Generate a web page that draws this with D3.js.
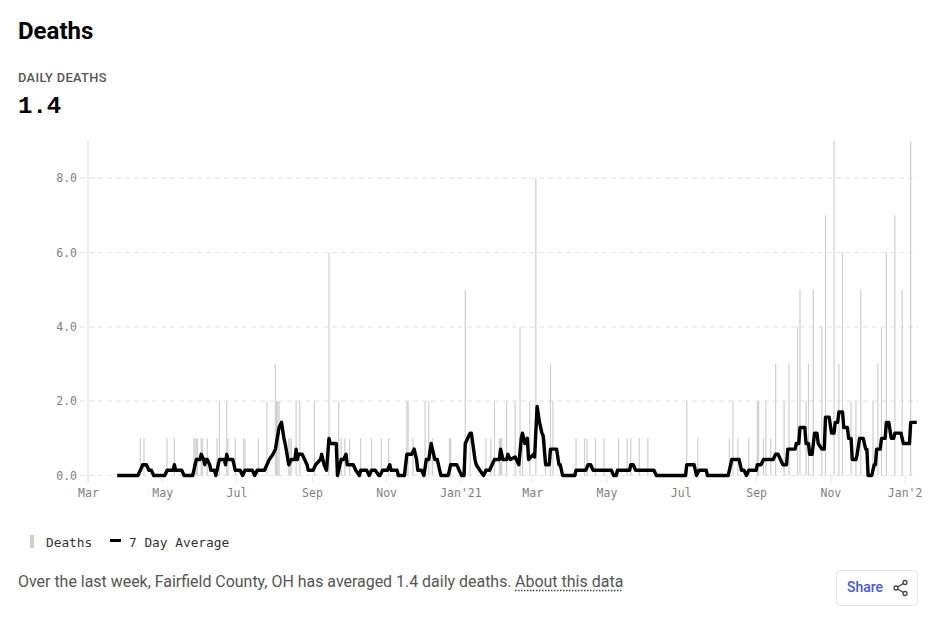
<!DOCTYPE html>
<html>
<head>
<meta charset="utf-8">
<script src="https://cdn.jsdelivr.net/npm/d3@7"></script>
<style>
  html, body { margin: 0; padding: 0; background: #fff; }
  svg { display: block; }
  text { font-family: "DejaVu Sans Mono", monospace; }
  .sans { font-family: Roboto, sans-serif; }
  .axis text { font-family: "DejaVu Sans Mono", monospace; font-size: 11.5px; fill: #808080; }
  .axis line { stroke: #e8e8e8; }
  .axis path { display: none; }
  .grid line { stroke: #e6e6e6; stroke-width: 1.2; stroke-dasharray: 5 4; }
</style>
</head>
<body>
<div id="chart"></div>
<script>
/* DATA: days are counted from 1 March 2020 */
const START = new Date(2020, 2, 1);
const LAST_DAY = 682;

const deathDays = [43, 46, 65, 71, 87, 88, 89, 90, 93, 94, 98, 106, 108, 114, 115, 121, 128, 129, 140, 147, 154,
  155, 156, 157, 165, 166, 167, 171, 174, 186, 198, 206, 208, 211, 215, 224, 233, 241, 247, 262, 263, 267,
  277, 280, 283, 297, 298, 310, 314, 327, 331, 334, 338, 339, 340, 344, 351, 355, 357, 363, 368, 376, 380,
  382, 401, 408, 410, 417, 424, 436, 443, 446, 453, 460, 492, 501, 527, 530, 534, 543, 550, 551, 555, 557,
  561, 565, 572, 576, 583, 585, 590, 592, 596, 603, 606, 613, 617, 620, 627, 631, 635, 645, 649, 652, 656,
  663, 669, 676];
const deathValues = [1, 1, 1, 1, 1, 1, 1, 1, 1, 1, 1, 1, 2, 2, 1, 1, 1, 1, 1, 2, 3,
  2, 2, 2, 1, 1, 1, 2, 2, 2, 6, 2, 1, 1, 1, 1, 1, 1, 1, 2, 2, 1,
  2, 2, 1, 1, 1, 5, 1, 1, 1, 2, 1, 1, 1, 2, 2, 4, 1, 2, 8, 1, 3,
  2, 1, 1, 1, 1, 1, 1, 1, 1, 1, 1, 2, 1, 1, 2, 1, 1, 2, 2, 1, 2,
  1, 3, 2, 3, 4, 5, 2, 3, 5, 4, 7, 9, 3, 6, 2, 2, 5, 2, 3, 4, 6,
  7, 5, 9];

const avgDays = [24, 41, 43, 45, 48, 50, 52, 54, 63, 65, 70, 71, 72, 77, 79, 86, 87, 88, 89, 92, 93, 95, 96, 97, 98,
  100, 101, 104, 105, 106, 107, 108, 112, 113, 114, 115, 119, 121, 125, 127, 129, 135, 137, 139, 145, 147, 149,
  152, 154, 157, 159, 161, 162, 165, 167, 170, 171, 172, 173, 176, 178, 180, 181, 185, 187, 191, 192, 194, 196,
  198, 199, 204, 205, 206, 207, 208, 210, 212, 213, 218, 220, 223, 224, 229, 231, 233, 236, 239, 240, 242, 246,
  248, 249, 254, 255, 260, 262, 266, 268, 270, 271, 274, 276, 278, 280, 282, 285, 287, 289, 290, 296, 298, 303,
  305, 307, 309, 310, 312, 314, 315, 318, 319, 322, 325, 327, 330, 332, 334, 338, 339, 341, 344, 345, 347, 351,
  354, 356, 357, 359, 361, 362, 366, 367, 369, 371, 373, 374, 376, 379, 380, 385, 387, 388, 390, 400, 401, 409,
  411, 413, 415, 430, 432, 434, 435, 445, 446, 448, 450, 465, 467, 491, 492, 498, 500, 502, 508, 509, 526, 527,
  529, 535, 537, 539, 541, 543, 549, 550, 553, 555, 563, 565, 567, 569, 571, 574, 575, 581, 582, 584, 585, 589,
  590, 592, 593, 595, 597, 599, 600, 603, 605, 606, 609, 611, 613, 614, 616, 617, 620, 621, 624, 625, 627, 628,
  631, 632, 634, 637, 639, 640, 641, 644, 646, 647, 648, 651, 652, 655, 656, 658, 660, 662, 663, 668, 670, 675,
  676, 681];
const avgValues = [0, 0, .14, .29, .29, .14, .14, 0, 0, .14, .14, .29, .14, .14, 0, 0, .14, .29, .43, .43, .57, .43, .29, .43, .43,
  .29, .14, .14, 0, .14, .29, .43, .43, .29, .57, .43, .43, .14, .14, 0, .14, .14, 0, .14, .14, .29, .43,
  .57, .71, 1.29, 1.43, 1, .86, .29, .43, .43, .71, .43, .57, .57, .43, .29, .14, .14, .29, .43, .57, .29, .14,
  1, .86, .86, 0, .14, .29, .43, .43, .57, .29, .29, .14, 0, .14, .14, 0, .14, .14, 0, 0, .14, .14,
  .29, .14, .14, 0, 0, .57, .57, .71, .43, .14, .14, 0, .43, .43, .86, .43, .43, .14, 0, 0, .29, .29,
  .14, 0, 0, .86, 1, 1.14, 1.14, .43, .29, .14, 0, .14, .14, .29, .43, .43, .71, .43, .43, .57, .43, .5,
  .29, 1, 1.14, .86, 1, .43, .57, .5, 1.86, 1.43, 1.14, 1.07, .29, .29, .71, .71, .29, .29, 0, 0, .14, .14,
  .29, .29, .14, .14, 0, 0, .14, .14, .29, .29, .14, .14, 0, 0, .29, .29, 0, .14, .14, 0, 0, .14,
  .43, .43, .14, .14, 0, .14, .14, .29, .29, .43, .43, .57, .57, .43, .29, .29, .71, .71, .86, .86, 1.29, 1.29,
  .86, .86, .57, .57, 1.14, 1.14, .86, .71, .71, 1.57, 1.57, 1.14, 1.14, 1.43, 1.43, 1.71, 1.71, 1.29, 1.29, 1, 1, .43,
  .43, .57, 1, 1, .71, .71, 0, 0, .29, .29, .71, .71, 1, 1, 1.43, 1.43, 1, 1, 1.14, 1.14, .86, .86,
  1.43, 1.43];

const yTicks = [0, 2, 4, 6, 8];
const xTickLabels = ["Mar", "May", "Jul", "Sep", "Nov", "Jan'21", "Mar", "May", "Jul", "Sep", "Nov", "Jan'2"];

/* LAYOUT */
const width = 935, height = 626;
const plot = { left: 88, right: 918, top: 141, bottom: 475.5 };

function dayToDate(n) {
  return d3.timeDay.offset(START, n);
}

const xScale = d3.scaleTime()
  .domain([START, dayToDate(LAST_DAY)])
  .range([plot.left, plot.right]);
const yScale = d3.scaleLinear()
  .domain([0, 9])
  .range([plot.bottom, plot.top]);

const svg = d3.select("#chart").append("svg")
  .attr("width", width)
  .attr("height", height);

/* HEADER */
svg.append("text").attr("class", "sans")
  .attr("x", 18).attr("y", 39)
  .attr("font-size", 24).attr("font-weight", 700).attr("fill", "#000")
  .text("Deaths");
svg.append("text").attr("class", "sans")
  .attr("x", 18).attr("y", 82)
  .attr("font-size", 12.8).attr("font-weight", 500).attr("fill", "#555")
  .attr("letter-spacing", 0.35)
  .text("DAILY DEATHS");
svg.append("text")
  .attr("x", 18).attr("y", 113)
  .attr("font-family", "Liberation Mono")
  .style("font-family", "'Liberation Mono', monospace")
  .attr("font-size", 24).attr("font-weight", 700).attr("fill", "#000")
  .text("1.4");

/* AXES */
const grid = svg.append("g").attr("class", "grid");
grid.selectAll("line")
  .data(yTicks)
  .enter()
  .append("line")
  .attr("x1", plot.left - 8)
  .attr("x2", plot.right)
  .attr("y1", (d) => yScale(d))
  .attr("y2", (d) => yScale(d));

svg.append("line")
  .attr("x1", plot.left).attr("x2", plot.left)
  .attr("y1", plot.top).attr("y2", plot.bottom + 7)
  .attr("stroke", "#e8e8e8").attr("stroke-width", 1.5);

const yAxis = d3.axisLeft(yScale)
  .tickValues(yTicks)
  .tickSize(0)
  .tickPadding(11)
  .tickFormat(d3.format(".1f"));
svg.append("g").attr("class", "axis")
  .attr("transform", `translate(${plot.left},0)`)
  .call(yAxis);

const xTicks = d3.timeMonth.every(2).range(START, dayToDate(LAST_DAY));
const xAxis = d3.axisBottom(xScale)
  .tickValues(xTicks)
  .tickSize(7)
  .tickPadding(6)
  .tickFormat((d, i) => xTickLabels[i]);
svg.append("g").attr("class", "axis")
  .attr("transform", `translate(0,${plot.bottom})`)
  .call(xAxis);

/* MARKS */
svg.append("g")
  .selectAll("rect")
  .data(deathDays)
  .enter()
  .append("rect")
  .attr("x", (d) => xScale(dayToDate(d)) - 0.6)
  .attr("width", 1.2)
  .attr("y", (d, i) => yScale(deathValues[i]))
  .attr("height", (d, i) => yScale(0) - yScale(deathValues[i]))
  .attr("fill", "#cfcfcf");

const avgLine = d3.line()
  .x((d) => xScale(dayToDate(d)))
  .y((d, i) => yScale(avgValues[i]));
svg.append("path")
  .attr("d", avgLine(avgDays))
  .attr("fill", "none")
  .attr("stroke", "#000")
  .attr("stroke-width", 3.4)
  .attr("stroke-linejoin", "round");

/* LEGEND */
svg.append("rect")
  .attr("x", 30).attr("y", 535).attr("width", 4).attr("height", 13)
  .attr("fill", "#cfcfcf");
svg.append("text")
  .attr("x", 46).attr("y", 547)
  .attr("font-size", 12.8).attr("fill", "#333")
  .text("Deaths");
svg.append("rect")
  .attr("x", 110).attr("y", 539).attr("width", 11).attr("height", 3)
  .attr("fill", "#000");
svg.append("text")
  .attr("x", 129).attr("y", 547)
  .attr("font-size", 12.8).attr("fill", "#333")
  .text("7 Day Average");

/* FOOTER */
svg.append("text").attr("class", "sans")
  .attr("x", 18).attr("y", 587)
  .attr("font-size", 15.95).attr("fill", "#555")
  .text("Over the last week, Fairfield County, OH has averaged 1.4 daily deaths.");
svg.append("text").attr("class", "sans")
  .attr("x", 515).attr("y", 587)
  .attr("font-size", 16).attr("fill", "#555")
  .text("About this data");
svg.append("line")
  .attr("x1", 515).attr("x2", 623)
  .attr("y1", 590.5).attr("y2", 590.5)
  .attr("stroke", "#444").attr("stroke-width", 1.5)
  .attr("stroke-dasharray", "1.5 1.5");

/* SHARE BUTTON */
svg.append("rect")
  .attr("x", 836.5).attr("y", 570.5).attr("width", 81).attr("height", 35).attr("rx", 4)
  .attr("fill", "#fff").attr("stroke", "#e6e6e6");
svg.append("text").attr("class", "sans")
  .attr("x", 847).attr("y", 592)
  .attr("font-size", 14).attr("font-weight", 500).attr("fill", "#4a55e8")
  .text("Share");
const share = svg.append("g").attr("fill", "none").attr("stroke", "#444").attr("stroke-width", 1.3);
share.append("path").attr("d", "M905 582.5L896 588L905 593.5");
share.selectAll("circle")
  .data([[905, 582.5], [896, 588], [905, 593.5]])
  .enter()
  .append("circle")
  .attr("cx", (d) => d[0])
  .attr("cy", (d) => d[1])
  .attr("r", 2)
  .attr("fill", "#fff");
</script>
</body>
</html>
